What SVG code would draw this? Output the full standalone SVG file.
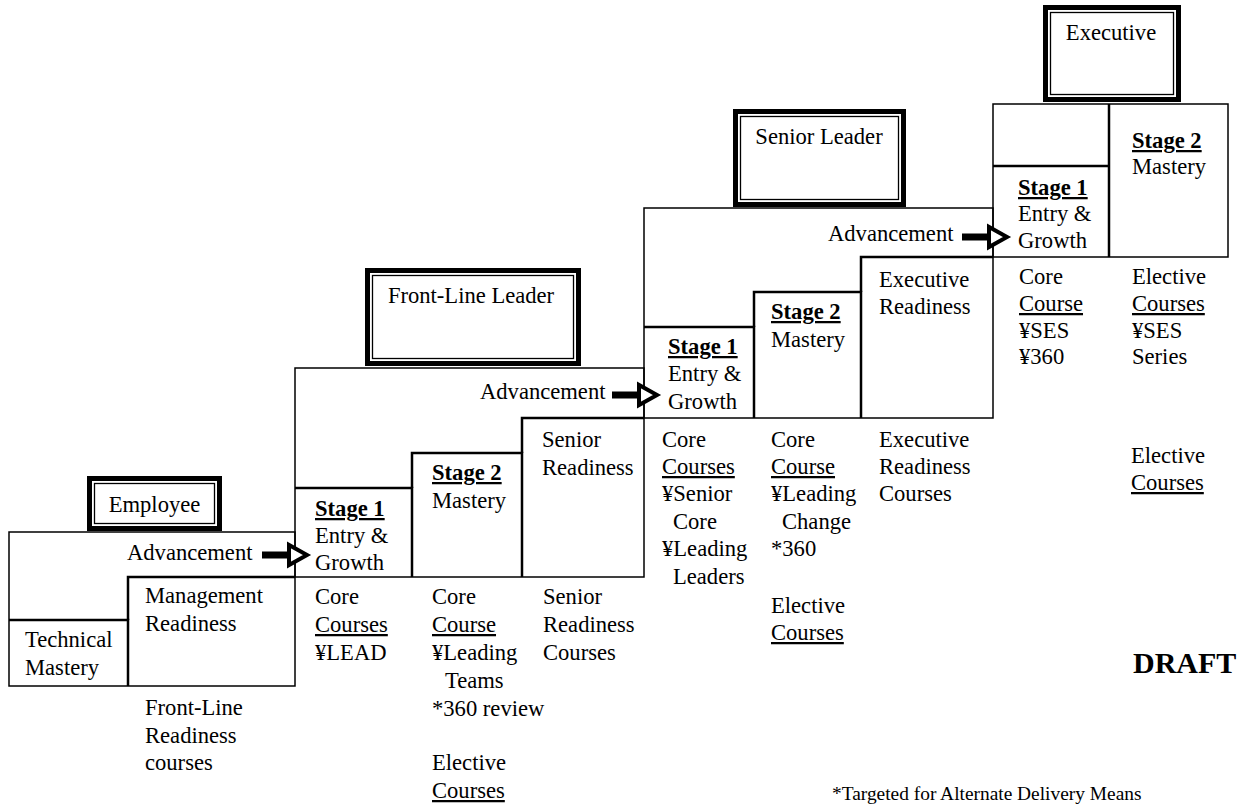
<svg xmlns="http://www.w3.org/2000/svg" width="1244" height="808" viewBox="0 0 1244 808">
<style>
.t{font-family:"Liberation Serif","Times New Roman",serif;font-size:22.6px;fill:#000}
.b{font-weight:bold}
.u{text-decoration:underline}
.m{text-anchor:middle}
.frame{fill:none;stroke:#000;stroke-width:1.5}
.step{fill:none;stroke:#000;stroke-width:2.5}
.outer{fill:none;stroke:#000;stroke-width:5}
.inner{fill:none;stroke:#000;stroke-width:1.3}
.arrow{fill:#fff;stroke:#000;stroke-width:4;stroke-linejoin:miter}
</style>
<defs>
<path id="arr" d="M2,-1.5 H27 V-10 L45,0 L27,10 V1.5 H2 Z"/>
</defs>
<rect width="1244" height="808" fill="#fff"/>

<!-- Employee level -->
<g id="employee">
  <g id="employee-title">
    <rect class="outer" x="89.5" y="478.5" width="130" height="50"/>
    <rect class="inner" x="94.5" y="483.5" width="120" height="40"/>
    <text class="t m" x="154.5" y="512">Employee</text>
  </g>
  <rect class="frame" x="9" y="532" width="286" height="154"/>
  <polyline class="step" points="9,620 128,620 128,686"/>
  <polyline class="step" points="128,620 128,577 295,577"/>
  <text class="t" x="127" y="560">Advancement</text>
  <text class="t" x="25" y="647">Technical</text>
  <text class="t" x="25" y="675">Mastery</text>
  <text class="t" x="145" y="603">Management</text>
  <text class="t" x="145" y="631">Readiness</text>
  <text class="t" x="145" y="715">Front-Line</text>
  <text class="t" x="145" y="743">Readiness</text>
  <text class="t" x="145" y="770">courses</text>
</g>

<!-- Front-Line Leader level -->
<g id="front-line-leader">
  <g id="front-line-title">
    <rect class="outer" x="367.5" y="270.5" width="211" height="93"/>
    <rect class="inner" x="372.5" y="275.5" width="201" height="83"/>
    <text class="t m" x="471" y="303">Front-Line Leader</text>
  </g>
  <rect class="frame" x="295" y="368" width="349" height="209"/>
  <polyline class="step" points="295,488 412,488 412,577"/>
  <polyline class="step" points="412,488 412,453 522,453 522,577"/>
  <polyline class="step" points="522,453 522,418 644,418"/>
  <text class="t" x="480" y="399">Advancement</text>
  <text class="t b u" x="315" y="516">Stage 1</text>
  <text class="t" x="315" y="543">Entry &amp;</text>
  <text class="t" x="315" y="570">Growth</text>
  <text class="t b u" x="432" y="480">Stage 2</text>
  <text class="t" x="432" y="508">Mastery</text>
  <text class="t" x="542" y="447">Senior</text>
  <text class="t" x="542" y="475">Readiness</text>
  <text class="t" x="315" y="604">Core</text>
  <text class="t u" x="315" y="632">Courses</text>
  <text class="t" x="315" y="660">¥LEAD</text>
  <text class="t" x="432" y="604">Core</text>
  <text class="t u" x="432" y="632">Course</text>
  <text class="t" x="432" y="660">¥Leading</text>
  <text class="t" x="445" y="688">Teams</text>
  <text class="t" x="432" y="716">*360 review</text>
  <text class="t" x="432" y="770">Elective</text>
  <text class="t u" x="432" y="798">Courses</text>
  <text class="t" x="543" y="604">Senior</text>
  <text class="t" x="543" y="632">Readiness</text>
  <text class="t" x="543" y="660">Courses</text>
</g>

<!-- Senior Leader level -->
<g id="senior-leader">
  <g id="senior-leader-title">
    <rect class="outer" x="735.5" y="111.5" width="168" height="93"/>
    <rect class="inner" x="740.5" y="116.5" width="158" height="83"/>
    <text class="t m" x="819" y="144">Senior Leader</text>
  </g>
  <rect class="frame" x="644" y="208" width="349" height="210"/>
  <polyline class="step" points="644,327 754,327 754,418"/>
  <polyline class="step" points="754,327 754,292 861,292 861,418"/>
  <polyline class="step" points="861,292 861,257 993,257"/>
  <text class="t" x="828" y="241">Advancement</text>
  <text class="t b u" x="668" y="354">Stage 1</text>
  <text class="t" x="668" y="381">Entry &amp;</text>
  <text class="t" x="668" y="409">Growth</text>
  <text class="t b u" x="771" y="319">Stage 2</text>
  <text class="t" x="771" y="347">Mastery</text>
  <text class="t" x="879" y="287">Executive</text>
  <text class="t" x="879" y="314">Readiness</text>
  <text class="t" x="662" y="447">Core</text>
  <text class="t u" x="662" y="474">Courses</text>
  <text class="t" x="662" y="501">¥Senior</text>
  <text class="t" x="673" y="529">Core</text>
  <text class="t" x="662" y="556">¥Leading</text>
  <text class="t" x="673" y="584">Leaders</text>
  <text class="t" x="771" y="447">Core</text>
  <text class="t u" x="771" y="474">Course</text>
  <text class="t" x="771" y="501">¥Leading</text>
  <text class="t" x="782" y="529">Change</text>
  <text class="t" x="771" y="556">*360</text>
  <text class="t" x="771" y="613">Elective</text>
  <text class="t u" x="771" y="640">Courses</text>
  <text class="t" x="879" y="447">Executive</text>
  <text class="t" x="879" y="474">Readiness</text>
  <text class="t" x="879" y="501">Courses</text>
</g>

<!-- Executive level -->
<g id="executive">
  <g id="executive-title">
    <rect class="outer" x="1045.5" y="7.5" width="133" height="92"/>
    <rect class="inner" x="1050.5" y="12.5" width="123" height="82"/>
    <text class="t m" x="1111" y="40">Executive</text>
  </g>
  <rect class="frame" x="993" y="104" width="235" height="153"/>
  <line class="step" x1="1109" y1="104" x2="1109" y2="257"/>
  <line class="step" x1="993" y1="166" x2="1109" y2="166"/>
  <text class="t b u" x="1018" y="195">Stage 1</text>
  <text class="t" x="1018" y="221">Entry &amp;</text>
  <text class="t" x="1018" y="248">Growth</text>
  <text class="t b u" x="1132" y="148">Stage 2</text>
  <text class="t" x="1132" y="174">Mastery</text>
  <text class="t" x="1019" y="284">Core</text>
  <text class="t u" x="1019" y="311">Course</text>
  <text class="t" x="1019" y="338">¥SES</text>
  <text class="t" x="1019" y="364">¥360</text>
  <text class="t" x="1132" y="284">Elective</text>
  <text class="t u" x="1132" y="311">Courses</text>
  <text class="t" x="1132" y="338">¥SES</text>
  <text class="t" x="1132" y="364">Series</text>
  <text class="t" x="1131" y="463">Elective</text>
  <text class="t u" x="1131" y="490">Courses</text>
</g>

<!-- Connectors -->
<g id="connectors">
  <use href="#arr" class="arrow" transform="translate(262,555)"/>
  <use href="#arr" class="arrow" transform="translate(612,395)"/>
  <use href="#arr" class="arrow" transform="translate(962,237)"/>
</g>

<g id="notes">
  <text class="t b" x="1133" y="673" style="font-size:30px">DRAFT</text>
  <text class="t" x="832" y="800" style="font-size:19.4px">*Targeted for Alternate Delivery Means</text>
</g>
</svg>
